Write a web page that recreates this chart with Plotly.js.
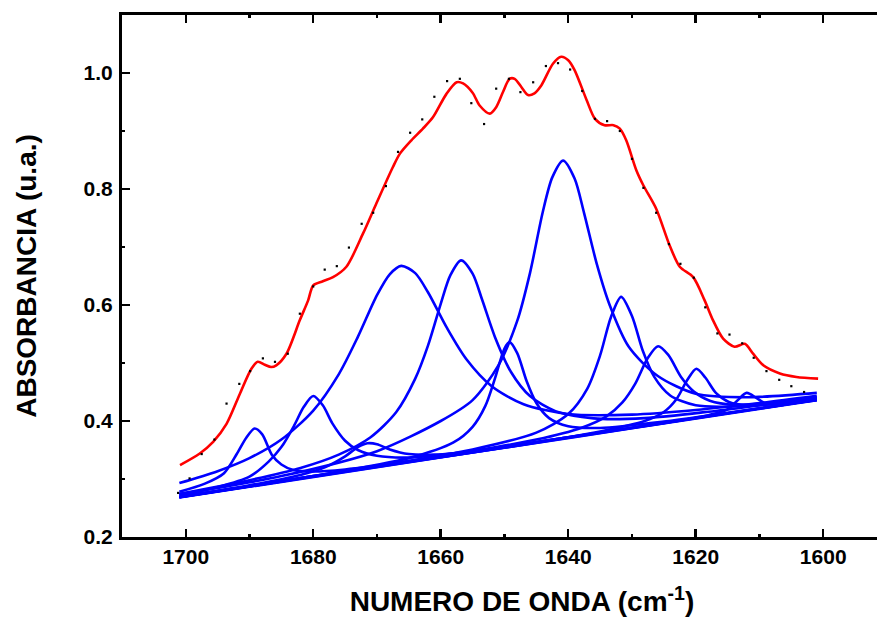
<!DOCTYPE html>
<html>
<head>
<meta charset="utf-8">
<script src="https://cdn.plot.ly/plotly-3.0.1.min.js"></script>
<style>
html, body { margin: 0; padding: 0; overflow: hidden; background: #fff; }
#chart { width: 922px; height: 621px; }
</style>
</head>
<body>
<div id="chart"></div>
<script>
// Red fitted envelope
const fitX = [1700.9,1697.8,1695.7,1693.6,1691.5,1689.7,1688.7,1687.6,1686.6,1685.8,1684.2,1682.1,1680.8,1680.0,1678.5,1676.9,1674.8,1672.2,1670.1,1667.5,1666.4,1664.6,1662.8,1661.2,1659.1,1657.5,1656.5,1655.0,1653.9,1652.3,1651.3,1650.2,1649.2,1648.4,1647.3,1646.3,1645.3,1644.2,1642.4,1641.1,1640.0,1639.0,1637.1,1635.8,1634.3,1632.9,1631.9,1630.9,1629.3,1628.2,1626.2,1624.1,1622.5,1620.4,1618.6,1617.3,1615.7,1613.9,1612.3,1611.0,1609.4,1606.8,1604.2,1600.8];
const fitY = [0.324,0.344,0.364,0.395,0.447,0.490,0.502,0.497,0.493,0.496,0.516,0.574,0.608,0.634,0.641,0.648,0.666,0.723,0.775,0.838,0.861,0.884,0.904,0.924,0.964,0.984,0.982,0.966,0.944,0.930,0.941,0.968,0.990,0.990,0.975,0.962,0.965,0.979,1.016,1.028,1.022,1.005,0.953,0.921,0.910,0.910,0.904,0.884,0.832,0.806,0.766,0.703,0.666,0.648,0.608,0.574,0.542,0.528,0.533,0.516,0.496,0.482,0.476,0.473];

// Measured spectrum (black dots)
const dataX = [1701.2,1699.4,1697.5,1695.5,1693.6,1691.6,1689.9,1687.9,1686.0,1684.0,1682.1,1680.0,1678.2,1676.3,1674.4,1672.4,1670.6,1668.6,1666.7,1664.8,1662.9,1661.0,1659.0,1657.0,1655.2,1653.2,1651.3,1649.3,1647.5,1645.5,1643.5,1641.6,1639.7,1637.8,1635.8,1633.9,1631.9,1630.0,1628.2,1626.2,1624.2,1622.4,1620.3,1618.5,1616.6,1614.7,1612.7,1610.9,1608.9,1606.9,1605.0,1603.0];
const dataY = [0.276,0.301,0.343,0.368,0.430,0.464,0.486,0.508,0.502,0.516,0.585,0.632,0.661,0.667,0.699,0.740,0.759,0.805,0.864,0.897,0.920,0.959,0.986,0.990,0.948,0.912,0.973,0.990,0.967,0.984,1.012,1.017,1.006,0.969,0.921,0.917,0.900,0.852,0.802,0.759,0.705,0.671,0.647,0.596,0.551,0.549,0.534,0.509,0.486,0.471,0.460,0.450];

// Blue component bands
const peak1X = [1701,1697,1694,1692,1690.5,1689.2,1688,1686.5,1685,1683,1680,1675,1665,1650,1630,1601];
const peak1Y = [0.278,0.292,0.310,0.343,0.371,0.387,0.377,0.342,0.325,0.315,0.313,0.3165,0.330,0.354,0.3875,0.436];
const peak2X = [1701,1695,1690,1687,1685,1683,1681.5,1680,1678.5,1677,1675,1673,1670,1665,1655,1640,1620,1601];
const peak2Y = [0.272,0.286,0.304,0.330,0.355,0.392,0.424,0.443,0.427,0.396,0.366,0.350,0.340,0.337,0.348,0.372,0.405,0.4365];
const peak3X = [1701,1690,1682,1678,1675,1673,1671.5,1670,1668,1665,1661,1653,1640,1601];
const peak3Y = [0.269,0.289,0.307,0.321,0.339,0.355,0.3616,0.360,0.351,0.343,0.342,0.351,0.372,0.4365];
const peak4X = [1701,1695,1690,1685,1680,1676,1673,1670,1668,1666.2,1664,1662,1659,1656,1652,1647,1640,1630,1620,1610,1601];
const peak4Y = [0.293,0.3135,0.336,0.368,0.418,0.4805,0.545,0.617,0.653,0.6675,0.655,0.622,0.560,0.507,0.460,0.429,0.412,0.411,0.419,0.431,0.4435];
const peak5X = [1701,1690,1682,1676,1671,1667,1664,1662,1660,1658.5,1656.8,1655,1653.5,1651.5,1649,1646,1642,1636,1628,1618,1610,1601];
const peak5Y = [0.2745,0.298,0.319,0.342,0.372,0.415,0.473,0.530,0.602,0.651,0.677,0.654,0.609,0.545,0.485,0.443,0.417,0.4045,0.405,0.416,0.427,0.440];
const peak6X = [1701,1680,1665,1658,1655,1653,1651.5,1650,1649.2,1648,1646.5,1645,1643,1640,1635,1625,1601];
const peak6Y = [0.2687,0.305,0.336,0.363,0.390,0.426,0.473,0.525,0.536,0.517,0.468,0.431,0.405,0.391,0.388,0.399,0.4365];
const peak7X = [1701,1685,1670,1660,1655,1651,1648,1646,1644,1642.5,1640.8,1639,1637.5,1635.5,1633.5,1630.5,1626,1620,1612,1601];
const peak7Y = [0.2735,0.305,0.348,0.400,0.436,0.495,0.5725,0.655,0.760,0.820,0.849,0.818,0.758,0.670,0.600,0.528,0.478,0.447,0.441,0.4485];
const peak8X = [1701,1670,1655,1645,1640,1637,1635,1633.3,1631.7,1630,1628.3,1626.5,1624,1620,1614,1607,1601];
const peak8Y = [0.2687,0.3224,0.351,0.380,0.412,0.456,0.513,0.579,0.614,0.581,0.521,0.476,0.444,0.427,0.425,0.4315,0.4397];
const peak9X = [1701,1660,1645,1638,1634,1631.5,1629.5,1627.5,1625.9,1624.3,1622.3,1620.3,1617.8,1613.8,1607,1601];
const peak9Y = [0.269,0.339,0.368,0.388,0.408,0.432,0.464,0.509,0.529,0.514,0.476,0.451,0.435,0.428,0.432,0.4395];
const peak10X = [1701,1650,1635,1628,1625,1623,1621.3,1619.9,1618.5,1616.8,1614.8,1611.8,1606,1601];
const peak10Y = [0.269,0.3544,0.382,0.400,0.4156,0.438,0.471,0.490,0.475,0.448,0.4327,0.427,0.431,0.438];
const peak11X = [1701,1640,1625,1618,1615,1613.5,1612,1610.5,1609,1606,1601];
const peak11Y = [0.268,0.371,0.3963,0.410,0.420,0.435,0.4485,0.440,0.430,0.430,0.436];

const xTitle = '<b>NUMERO DE ONDA (cm<sup>-1</sup>)</b>';
const yTitle = '<b>ABSORBANCIA (u.a.)</b>';

const peaksX = [peak1X,peak2X,peak3X,peak4X,peak5X,peak6X,peak7X,peak8X,peak9X,peak10X,peak11X];
const peaksY = [peak1Y,peak2Y,peak3Y,peak4Y,peak5Y,peak6Y,peak7Y,peak8Y,peak9Y,peak10Y,peak11Y];

const traces = [];
for (let i = 0; i < peaksX.length; i++) {
  traces.push({
    x: peaksX[i], y: peaksY[i], type: 'scatter', mode: 'lines',
    line: {color: '#0000ff', width: 2.6, shape: 'spline', smoothing: 0.8},
    hoverinfo: 'skip'
  });
}
traces.push({
  x: fitX, y: fitY, type: 'scatter', mode: 'lines',
  line: {color: '#ff0000', width: 2.6, shape: 'spline', smoothing: 0.8}
});
traces.push({
  x: dataX, y: dataY, type: 'scatter', mode: 'markers',
  marker: {color: '#000000', size: 2.2, symbol: 'square'}
});

const font = {family: 'Arial, "Liberation Sans", sans-serif', color: '#000'};

const layout = {
  width: 922, height: 621,
  margin: {l: 122, r: 0, t: 15, b: 84, pad: 0},
  paper_bgcolor: '#fff', plot_bgcolor: '#fff',
  showlegend: false,
  font: font,
  xaxis: {
    range: [1710, 1584.5],
    tick0: 1600, dtick: 20,
    ticks: 'inside', ticklen: 8, tickwidth: 2.5, tickcolor: '#000',
    minor: {dtick: 10, ticks: 'inside', ticklen: 3, tickwidth: 2.5, tickcolor: '#000'},
    showline: true, linewidth: 3, linecolor: '#000', mirror: 'ticks',
    showgrid: false, zeroline: false,
    tickfont: {family: font.family, size: 21, color: '#000', weight: 'bold'},
    ticklabelstandoff: -1,
    title: {text: xTitle, font: {family: font.family, size: 28, color: '#000', weight: 'bold'}, standoff: 25},
    automargin: false
  },
  yaxis: {
    range: [0.2, 1.1],
    tick0: 0.2, dtick: 0.2, tickformat: '.1f',
    ticks: 'inside', ticklen: 8, tickwidth: 2.5, tickcolor: '#000',
    minor: {dtick: 0.1, ticks: 'inside', ticklen: 3, tickwidth: 2.5, tickcolor: '#000'},
    showline: true, linewidth: 3, linecolor: '#000', mirror: 'ticks',
    showgrid: false, zeroline: false,
    tickfont: {family: font.family, size: 21, color: '#000', weight: 'bold'},
    ticklabelstandoff: 2,
    title: {text: yTitle, font: {family: font.family, size: 28, color: '#000', weight: 'bold'}, standoff: 39},
    automargin: false
  }
};

Plotly.newPlot('chart', traces, layout, {displayModeBar: false, staticPlot: true});
</script>
</body>
</html>
